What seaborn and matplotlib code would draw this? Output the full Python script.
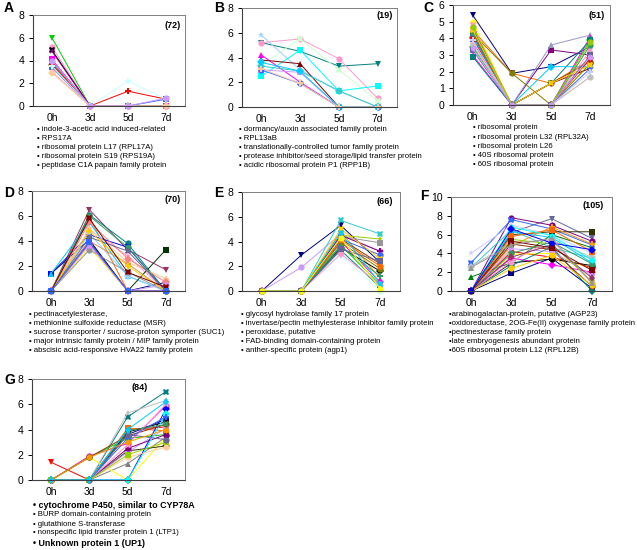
import matplotlib
matplotlib.use("Agg")
import matplotlib.pyplot as plt
import seaborn as sns
import pandas as pd

plt.rcParams['font.family'] = ['Liberation Sans', 'DejaVu Sans']

W, H = 637, 550
times = ['0h', '3d', '5d', '7d']

# expression profiles (one list per gene, values at 0h,3d,5d,7d)
prof_a = [[6.0, 0, 0, 0], [5.2, 0, 0, 0], [4.9, 0, 0, 0], [4.8, 0, 0, 0],
          [4.1, 0, 0, 0], [3.9, 0, 0, 0], [3.8, 0, 0, 0], [3.6, 0, 0, 0],
          [3.4, 0, 0, 0.6], [3.0, 0, 0, 0], [2.9, 0, 0, 0], [3.7, 0, 1.3, 0.6],
          [3.5, 0, 2.2, 0.6], [4.0, 0, 0, 0.7]]
prof_b = [[5.2, 4.5, 3.3, 3.5], [5.2, 5.5, 3.9, 0.7], [3.4, 5.5, 3.0, 0.5],
          [5.8, 3.0, 1.3, 0], [2.5, 4.6, 1.3, 1.7], [4.2, 2.0, 0, 0],
          [3.8, 3.5, 0, 0], [3.3, 2.9, 1.3, 0], [3.0, 2.8, 0, 0],
          [3.0, 1.9, 0, 0], [3.6, 2.9, 0, 0], [3.1, 1.9, 0, 0]]
prof_c = [[5.4, 1.9, 2.3, 3.5], [5.0, 0, 0, 2.5], [4.5, 1.9, 1.3, 2.7],
          [4.6, 0, 1.3, 2.2], [4.2, 0, 3.3, 3.0], [4.0, 0, 3.6, 4.2],
          [3.0, 0, 0, 4.1], [3.5, 0, 0, 3.9], [2.9, 0, 1.3, 3.9],
          [4.3, 1.9, 0, 2.5], [4.1, 0, 2.3, 2.3], [3.8, 0, 0, 2.2],
          [3.7, 0, 0, 1.7], [4.4, 0, 1.3, 2.6], [4.0, 0, 0, 2.8],
          [3.6, 0, 0, 1.7], [4.8, 0, 0, 3.3], [4.3, 0, 0, 3.6],
          [3.9, 0, 0, 2.0], [4.5, 0, 1.3, 2.4], [3.3, 0, 0, 3.0],
          [4.7, 0, 0, 3.8], [3.4, 0, 0, 2.9]]
prof_d = [[0, 6.5, 3.3, 1.7], [0, 6.1, 3.8, 0], [0, 5.9, 0, 0], [0, 4.9, 2.8, 0],
          [1.4, 4.5, 3.5, 0], [1.4, 4.1, 0, 0.7], [1.4, 5.5, 1.2, 0],
          [0, 4.6, 1.2, 0], [0, 4.0, 0, 3.3], [0, 3.5, 0, 0], [0, 3.8, 0, 0],
          [0, 5.0, 2.3, 1.0], [0, 4.0, 2.2, 0], [0, 3.3, 1.5, 0], [0, 5.5, 2.6, 0.7],
          [0, 6.0, 3.5, 0], [0, 4.3, 3.2, 0], [0, 3.7, 0, 0.5], [0, 4.8, 2.0, 0],
          [0, 5.8, 1.5, 0.3], [0, 3.9, 0, 0]]
prof_e = [[0, 2.9, 5.3, 2.3], [0, 1.9, 4.6, 3.2], [0, 0, 5.7, 4.6], [0, 0, 4.5, 4.2],
          [0, 0, 4.4, 3.9], [0, 0, 4.8, 1.0], [0, 0, 4.2, 2.2], [0, 0, 3.5, 1.6],
          [0, 0, 3.7, 0.5], [0, 0, 2.9, 0], [0, 0, 4.0, 0.7], [0, 0, 4.5, 3.2],
          [0, 0, 3.3, 0.3], [0, 0, 4.2, 2.9], [0, 0, 3.0, 0.5], [0, 0, 3.9, 1.8],
          [0, 0, 5.0, 2.6], [0, 0, 4.1, 2.0], [0, 0, 3.6, 1.2], [0, 0, 4.7, 0.6],
          [0, 0, 3.4, 2.4], [0, 0, 4.3, 0.2]]
prof_f = [[0, 6.2, 7.7, 5.6], [0, 7.8, 7.0, 5.3], [3.0, 7.6, 6.6, 4.9],
          [4.0, 7.0, 6.0, 4.0], [0, 6.0, 6.3, 6.3], [1.5, 3.0, 6.0, 4.6],
          [2.5, 6.5, 4.6, 3.5], [2.6, 5.2, 5.4, 3.6], [0, 1.9, 3.5, 0.3],
          [0, 4.2, 3.6, 2.5], [0, 3.5, 2.8, 2.0], [0, 3.9, 4.0, 2.3],
          [0, 4.8, 6.8, 5.0], [0, 3.0, 3.4, 2.7], [0, 2.7, 4.7, 0],
          [0, 5.0, 4.4, 0.5], [0, 6.3, 5.7, 3.0], [0, 3.1, 5.5, 0.8],
          [0, 4.5, 4.2, 1.7], [0, 5.5, 5.0, 1.0], [0, 5.8, 6.5, 4.2],
          [0, 4.0, 5.2, 2.9], [0, 6.8, 5.9, 3.3], [0, 3.6, 4.9, 1.4],
          [0, 2.4, 3.8, 0.6], [0, 5.3, 4.6, 2.2], [0, 6.6, 5.1, 4.4],
          [2.5, 4.9, 5.6, 0.9]]
prof_g = [[1.4, 0, 4.0, 4.2], [0, 1.9, 2.9, 5.9], [0, 0, 5.0, 7.0], [0, 0, 5.3, 6.3],
          [0, 0, 3.6, 4.8], [0, 0, 1.3, 3.4], [0, 1.8, 0, 3.4], [0, 0, 2.3, 2.7],
          [0, 0, 4.1, 3.9], [0, 1.8, 3.3, 3.6], [0, 0, 0, 5.6], [0, 0, 3.8, 4.6],
          [0, 0, 2.2, 4.1], [0, 0, 2.5, 3.6], [0, 0, 0, 5.2], [0, 1.8, 3.5, 4.4],
          [0, 0, 2.8, 6.0], [0, 0, 1.8, 2.6], [0, 0, 3.3, 5.0], [0, 0, 3.9, 4.4],
          [0, 0, 2.0, 3.0], [0, 0, 3.6, 3.2], [0, 1.8, 3.0, 4.0], [0, 0, 4.0, 6.2]]

counts = ['(72)', '(19)', '(51)', '(70)', '(66)', '(105)', '(84)']
letters = ['A', 'B', 'C', 'D', 'E', 'F', 'G']

genes_a = ['indole-3-acetic acid induced-related', 'RPS17A', 'ribosomal protein L17 (RPL17A)',
           'ribosomal protein S19 (RPS19A)', 'peptidase C1A papain family protein']
genes_b = ['dormancy/auxin associated family protein', 'RPL13aB',
           'translationally-controlled tumor family protein',
           'protease inhibitor/seed storage/lipid transfer protein',
           'acidic ribosomal protein P1 (RPP1B)']
genes_c = ['ribosomal protein', 'ribosomal protein L32 (RPL32A)', 'ribosomal protein L26',
           '40S ribosomal protein', '60S ribosomal protein']
genes_d = ['pectinacetylesterase,', 'methionine sulfoxide reductase (MSR)',
           'sucrose transporter / sucrose-proton symporter (SUC1)',
           'major intrinsic family protein / MIP family protein',
           'abscisic acid-responsive HVA22 family protein']
genes_e = ['glycosyl hydrolase family 17 protein',
           'invertase/pectin methylesterase inhibitor family protein',
           'peroxidase, putative', 'FAD-binding domain-containing protein',
           'anther-specific protein (agp1)']
genes_f = ['arabinogalactan-protein, putative (AGP23)',
           'oxidoreductase, 2OG-Fe(II) oxygenase family protein',
           'pectinesterase family protein', 'late embryogenesis abundant protein',
           '60S ribosomal protein L12 (RPL12B)']
genes_g = ['cytochrome P450, similar to CYP78A', 'BURP domain-containing protein',
           'glutathione S-transferase', 'nonspecific lipid transfer protein 1 (LTP1)',
           'Unknown protein 1 (UP1)']

# line colours per panel (Excel-like series colours)
col_a = ['#00CC00', '#FF99CC', '#000000', '#800080', '#FF00FF', '#008000', '#33CCCC',
         '#808000', '#3366FF', '#FF99CC', '#FFCC99', '#FF0000', '#CCFFFF', '#CC99FF']
col_b = ['#008080', '#FF99CC', '#CCFFCC', '#99CCFF', '#00FFFF', '#FF00FF', '#800000',
         '#33CCCC', '#CC99FF', '#3366FF', '#00CCFF', '#FFCC99']
col_c = ['#000080', '#FFFF00', '#FF6600', '#800000', '#800080', '#9999CC', '#FF00FF',
         '#00CC00', '#008080', '#808000', '#00CCFF', '#3366FF', '#FFCC99', '#993300',
         '#FF0000', '#C0C0C0', '#FF99CC', '#339966', '#CCCCFF', '#FFCC00', '#666699',
         '#99CC00', '#CC99FF']
col_d = ['#993366', '#008080', '#FF6600', '#FF99CC', '#0000FF', '#000080', '#00CCFF',
         '#99CCFF', '#003300', '#FFFF00', '#FF00FF', '#FFCC99', '#CC9966', '#969696',
         '#FF8080', '#339966', '#666699', '#CC99FF', '#FFCC00', '#800000', '#3366FF']
col_e = ['#000080', '#CC99FF', '#33CCCC', '#99CC00', '#969696', '#FF9900', '#993300',
         '#000000', '#00CC00', '#CCFFFF', '#FF00FF', '#800080', '#008080', '#3366FF',
         '#FF99CC', '#808000', '#FFCC00', '#FF6600', '#339966', '#00CCFF', '#666699',
         '#FFFF00']
col_f = ['#666699', '#800080', '#3366FF', '#CCCCFF', '#333300', '#008000', '#33CCCC',
         '#C0C0C0', '#000080', '#FF0000', '#FF00FF', '#FFFF00', '#FF9900', '#000000',
         '#008080', '#993300', '#00CCFF', '#FF99CC', '#CC99FF', '#99CC00', '#FF6600',
         '#339966', '#00FFFF', '#993366', '#FFCC00', '#800000', '#0000FF', '#969696']
col_g = ['#FF0000', '#FF00FF', '#008080', '#C0C0C0', '#000080', '#808080', '#FFFF00',
         '#333300', '#FF6600', '#00CC00', '#0000FF', '#000000', '#CC99FF', '#800080',
         '#00FFFF', '#993300', '#FF99CC', '#FFCC99', '#3366FF', '#339966', '#99CC00',
         '#666699', '#FF9900', '#00CCFF']
markers = ['v', 'o', 'X', '*', 's', '^', '^', 'D', 's', 'o', 'D', 'P', 'P', 'o',
           'D', 'o', 'X', 'o', 'P', 'X', 's', 'o', 'h', 'd', 'o', 's', 'D', '^',
           'o', 'X', 's', 'D', 'P', '^', 'o', 'v']


def box(l, t, r, b):
    return [l / W, 1 - b / H, (r - l) / W, (b - t) / H]


panels = [
    (prof_a, col_a, box(33, 15, 185, 106), 8, 2, (4, 8), (173, 25), genes_a, 37, 129, '• '),
    (prof_b, col_b, box(242, 8, 397, 107), 8, 2, (214, 8), (385, 16), genes_b, 239, 129, '• '),
    (prof_c, col_c, box(453, 5, 610, 105), 6, 1, (423, 8), (597, 15), genes_c, 473, 128, '• '),
    (prof_d, col_d, box(32, 191, 185, 291), 8, 2, (4, 193), (173, 200), genes_d, 29, 314, '• '),
    (prof_e, col_e, box(242, 192, 400, 291), 8, 2, (214, 193), (385, 202), genes_e, 241, 314, '• '),
    (prof_f, col_f, box(451, 197, 612, 291), 10, 2, (420, 196), (593, 205), genes_f, 449, 314, '•'),
    (prof_g, col_g, box(32, 379, 185, 480), 8, 2, (4, 380), (140, 388), genes_g, 33, 505, '• '),
]

fig = plt.figure(figsize=(W / 100, H / 100), dpi=100)

for i, (prof, cols, rect, ymax, step, lpos, cpos, genes, tx, ty, bullet) in enumerate(panels):
    ax = fig.add_axes(rect)
    rows = []
    for k, p in enumerate(prof):
        for t, v in zip(times, p):
            rows.append({'gene': f'g{k}', 'time': t, 'value': v})
    df = pd.DataFrame(rows)
    n = len(prof)
    sns.lineplot(data=df, x='time', y='value', hue='gene', style='gene',
                 palette=cols, markers=markers[:n], dashes=False,
                 linewidth=0.7, markersize=4.5, markeredgewidth=0,
                 legend=False, ax=ax, clip_on=False)
    ax.set_xlim(-0.5, 3.5)
    ax.set_ylim(0, ymax)
    ax.set_yticks(range(0, ymax + 1, step))
    ax.set_xlabel('')
    ax.set_ylabel('')
    ax.tick_params(axis='y', length=3, width=0.7, pad=3, labelsize=7.5)
    ax.tick_params(axis='x', length=0, pad=5, labelsize=7.5)
    for s in ['top', 'right']:
        ax.spines[s].set_color('#808080')
        ax.spines[s].set_linewidth(0.7)
    for s in ['left', 'bottom']:
        ax.spines[s].set_color('#404040')
        ax.spines[s].set_linewidth(0.8)
    fig.text(lpos[0] / W, 1 - lpos[1] / H, letters[i], fontsize=10, fontweight='bold',
             ha='left', va='center')
    fig.text(cpos[0] / W, 1 - cpos[1] / H, counts[i], fontsize=6.5, fontweight='bold',
             ha='center', va='center')
    if i == 6:
        ys = [505, 515, 524, 533, 543]
        for j, g in enumerate(genes):
            bold = j in (0, 4)
            fig.text(tx / W, 1 - ys[j] / H, bullet + g,
                     fontsize=6.4 if bold else 5.6,
                     fontweight='bold' if bold else 'normal', ha='left', va='center')
    else:
        for j, g in enumerate(genes):
            fig.text(tx / W, 1 - (ty + 9.2 * j) / H, bullet + g, fontsize=5.6,
                     ha='left', va='center')

fig.savefig('out.png', dpi=100)
